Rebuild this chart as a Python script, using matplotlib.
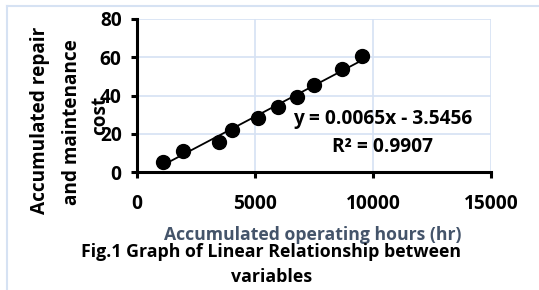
import matplotlib
matplotlib.use("Agg")
import matplotlib.pyplot as plt
from matplotlib.lines import Line2D

plt.rcParams['font.family'] = ['Open Sans', 'DejaVu Sans']
plt.rcParams['font.weight'] = 'bold'

# data
hours = [1115, 1962, 3460, 4025, 5114, 5962, 6794, 7487, 8686, 9547]
cost = [5.1, 11.1, 15.8, 21.9, 28.0, 34.1, 39.3, 45.3, 53.8, 60.6]
slope = 0.0065
intercept = -3.5456
r2 = 0.9907
x_ticks = [0, 5000, 10000, 15000]
y_ticks = [0, 20, 40, 60, 80]

fig = plt.figure(figsize=(5.39, 2.9), dpi=100)
W, H = 539, 290

# light blue chart frame (runs off the right and bottom edge)
frame = "#D6E2F3"
fig.add_artist(Line2D([7 / W, 7 / W], [0, 1 - 6 / H], color=frame, lw=1.5, transform=fig.transFigure))
fig.add_artist(Line2D([7 / W, 1], [1 - 6 / H, 1 - 6 / H], color=frame, lw=1.5, transform=fig.transFigure))

ax = fig.add_axes([137 / W, 1 - 172 / H, (491 - 137) / W, (172 - 19) / H])
ax.set_xlim(0, 15000)
ax.set_ylim(0, 80)
ax.set_xticks(x_ticks)
ax.set_yticks(y_ticks)
ax.grid(True, color="#D6E2F3", lw=1.2)
ax.set_axisbelow(True)
for s in ["top", "right"]:
    ax.spines[s].set_visible(False)
for s in ["left", "bottom"]:
    ax.spines[s].set_linewidth(2.2)
ax.tick_params(width=2.2, length=4, labelsize=13.8, direction="out")
ax.tick_params(axis="x", pad=12)
ax.tick_params(axis="y", pad=7)

ax.plot(hours, cost, "o", color="black", ms=10, zorder=3)
xs = [min(hours), max(hours)]
ax.plot(xs, [slope * v + intercept for v in xs], color="black", lw=1.3, zorder=4)

ax.text(383 / W, 1 - 119 / H, f"y = {slope}x - {abs(intercept)}", transform=fig.transFigure,
        ha="center", va="center", fontsize=13.8)
ax.text(383 / W, 1 - 147 / H, f"R² = {r2}", transform=fig.transFigure,
        ha="center", va="center", fontsize=13.8)

# axis titles and caption
fig.text(40 / W, 1 - 120 / H, "Accumulated repair", rotation=90, ha="center", va="center", fontsize=13.7)
fig.text(72 / W, 1 - 122 / H, "and maintenance", rotation=90, ha="center", va="center", fontsize=13.7)
fig.text(100 / W, 1 - 115 / H, "cost", rotation=90, ha="center", va="center", fontsize=13.7)
fig.text(313 / W, 1 - 235 / H, "Accumulated operating hours (hr)", ha="center", va="center",
         fontsize=12.7, color="#44546A")
fig.text(271 / W, 1 - 252 / H, "Fig.1 Graph of Linear Relationship between", ha="center", va="center", fontsize=12.8)
fig.text(272 / W, 1 - 277 / H, "variables", ha="center", va="center", fontsize=12.8)

fig.savefig("out.png", dpi=100)
